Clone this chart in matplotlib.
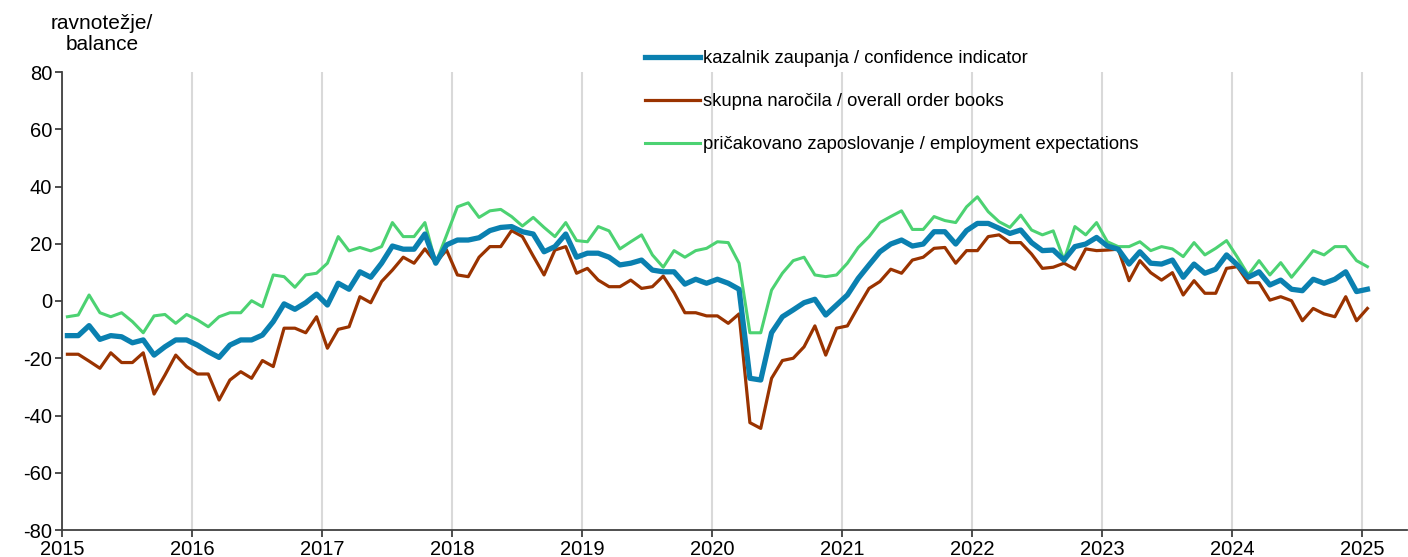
import matplotlib.pyplot as plt

plt.rcParams['font.family'] = ['Liberation Sans', 'DejaVu Sans']
plt.rcParams['axes.unicode_minus'] = False

# monthly data, Jan 2015 - Jan 2025
confidence = [
    -12.1, -12.1, -8.6, -13.4, -12.1, -12.5, -14.6, -13.6, -18.9, -16.0, -13.6, -13.6,
    -15.4, -17.7, -19.7, -15.4, -13.6, -13.6, -11.9, -7.2, -1.0, -2.9, -0.6, 2.4,
    -1.4, 6.2, 4.1, 10.2, 8.3, 13.2, 19.2, 18.1, 18.1, 23.4, 13.2, 19.6,
    21.3, 21.3, 22.1, 24.6, 25.7, 26.0, 24.2, 23.4, 17.2, 19.0, 23.4, 15.3,
    16.7, 16.7, 15.3, 12.6, 13.2, 14.3, 10.8, 10.2, 10.2, 5.9, 7.6, 6.2,
    7.6, 6.2, 4.1, -27.0, -27.6, -11.1, -5.5, -3.1, -0.6, 0.6, -4.9, -1.4,
    2.1, 7.9, 12.6, 17.2, 19.9, 21.3, 19.2, 19.9, 24.2, 24.2, 19.9, 24.6,
    27.1, 27.1, 25.4, 23.6, 24.8, 20.4, 17.6, 17.8, 14.3, 19.0, 19.9, 22.2,
    19.2, 18.1, 12.9, 17.2, 13.2, 12.9, 14.3, 8.3, 12.9, 9.7, 11.1, 16.1,
    12.6, 8.3, 10.2, 5.6, 7.3, 4.1, 3.6, 7.6, 6.2, 7.6, 10.2, 3.3,
    4.1,
]
order_books = [
    -18.6, -18.6, -21.0, -23.5, -18.1, -21.5, -21.5, -18.1, -32.5, -25.9, -18.9, -22.9,
    -25.5, -25.5, -34.6, -27.6, -24.7, -27.0, -20.8, -22.9, -9.5, -9.5, -11.1, -5.5,
    -16.5, -9.9, -9.0, 1.5, -0.6, 6.8, 10.8, 15.3, 13.2, 18.2, 13.4, 17.8,
    9.1, 8.5, 15.3, 19.0, 19.0, 24.6, 22.5, 15.7, 9.1, 17.8, 19.0, 9.7,
    11.4, 7.3, 5.0, 5.0, 7.3, 4.4, 5.0, 8.7, 2.9, -4.1, -4.1, -5.2,
    -5.2, -7.8, -4.5, -42.5, -44.5, -27.0, -20.8, -20.0, -16.0, -8.7, -18.9, -9.5,
    -8.7, -2.0, 4.4, 6.8, 11.1, 9.7, 14.3, 15.3, 18.4, 18.7, 13.2, 17.6,
    17.6, 22.5, 23.1, 20.4, 20.4, 16.4, 11.4, 11.8, 13.2, 11.1, 18.2, 17.6,
    17.8, 18.1, 7.1, 14.1, 9.9, 7.3, 9.9, 2.1, 7.1, 2.7, 2.7, 11.4,
    12.0, 6.4, 6.4, 0.3, 1.5, 0.1, -6.9, -2.6, -4.5, -5.5, 1.5, -6.9,
    -2.6,
]
employment = [
    -5.5, -4.9, 2.1, -4.1, -5.5, -4.1, -7.2, -11.1, -5.2, -4.7, -7.8, -4.7,
    -6.6, -9.0, -5.5, -4.1, -4.1, 0.1, -2.0, 9.1, 8.5, 4.8, 9.1, 9.7,
    13.2, 22.5, 17.5, 18.7, 17.5, 19.0, 27.4, 22.5, 22.5, 27.4, 13.2, 23.0,
    32.9, 34.3, 29.2, 31.5, 32.0, 29.5, 26.2, 29.2, 25.7, 22.5, 27.4, 21.1,
    20.7, 26.0, 24.5, 18.2, 20.7, 23.1, 16.1, 11.8, 17.6, 15.3, 17.6, 18.4,
    20.7, 20.4, 13.2, -11.1, -11.1, 3.8, 9.7, 14.1, 15.3, 9.1, 8.5, 9.1,
    13.2, 18.7, 22.5, 27.4, 29.5, 31.5, 25.0, 25.0, 29.5, 28.1, 27.4, 32.9,
    36.4, 31.2, 27.7, 25.7, 30.0, 24.8, 23.1, 24.5, 14.3, 26.0, 23.1, 27.4,
    20.7, 19.0, 19.0, 20.7, 17.6, 19.0, 18.2, 15.5, 20.4, 16.1, 18.4, 21.1,
    15.3, 9.1, 14.1, 9.1, 13.4, 8.3, 12.9, 17.6, 16.1, 19.0, 19.0, 14.1,
    12.0,
]
years = list(range(2015, 2026))
labels = [
    "kazalnik zaupanja / confidence indicator",
    "skupna naročila / overall order books",
    "pričakovano zaposlovanje / employment expectations",
]

x = [i + 0.5 for i in range(len(confidence))]

fig = plt.figure(figsize=(14.08, 5.57), dpi=100)
ax = fig.add_axes([62 / 1408, 27 / 557, 1345 / 1408, 458 / 557])

ax.plot(x, confidence, color="#0a80b0", lw=3.8, label=labels[0], zorder=3)
ax.plot(x, order_books, color="#9a3300", lw=2.3, label=labels[1], zorder=2)
ax.plot(x, employment, color="#4cd272", lw=2.2, label=labels[2], zorder=1)

ax.set_ylim(-80, 80)
ax.set_yticks(range(-80, 81, 20))
ax.set_xlim(0, 1345 / 10.833)
ax.set_xticks([12 * k for k in range(len(years))])
ax.set_xticklabels([str(y) for y in years])
ax.xaxis.grid(True, color="#d9d9d9", lw=1.5)
ax.set_axisbelow(True)

for s in ("top", "right"):
    ax.spines[s].set_visible(False)
for s in ("left", "bottom"):
    ax.spines[s].set_color("#404040")
    ax.spines[s].set_linewidth(1.3)
ax.tick_params(axis="both", direction="out", length=5, width=1.3, color="#404040",
               labelsize=14.5, pad=2)

fig.text(102 / 1408, 1 - 34 / 557, "ravnotežje/\nbalance", ha="center", va="center",
         fontsize=15, linespacing=1.15)

fig.legend(loc="upper left", bbox_to_anchor=(636 / 1408, 1 - 41 / 557), frameon=False,
           fontsize=13.2, handlelength=3.0, handletextpad=0.18, labelspacing=1.42,
           borderpad=0)

fig.savefig("out.png", dpi=100)
